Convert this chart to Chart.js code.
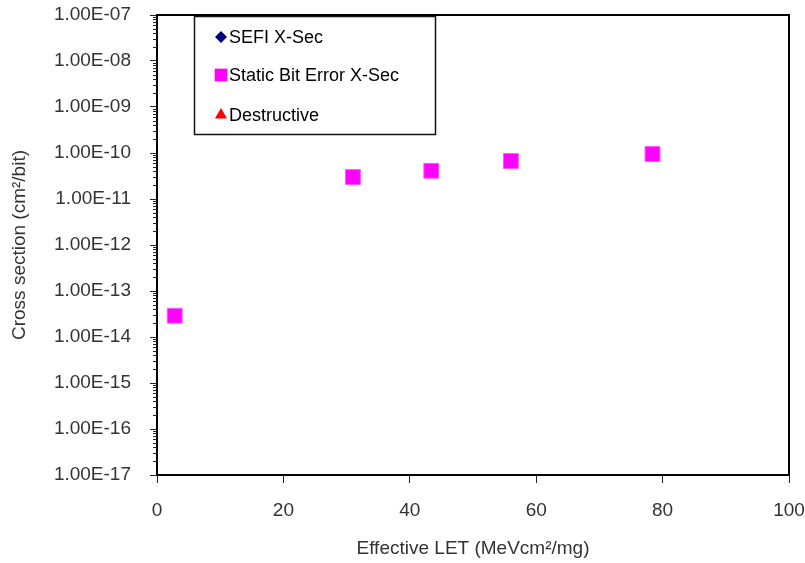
<html lang="en">
<head>
<meta charset="UTF-8">
<title>Cross section vs Effective LET</title>
<script src="https://cdn.jsdelivr.net/npm/chart.js"></script>
<style>
  body, html {
    margin: 0;
    background: #fff;
    font-family: "Liberation Sans", Arial, sans-serif;
  }
  #wrap {
    width: 805px;
    height: 563px;
  }
</style>
</head>
<body>
<div id="wrap">
  <canvas id="xsecChart" width="805" height="563"></canvas>
</div>
<script>
  // data
  const seriesNames = ['SEFI X-Sec', 'Static Bit Error X-Sec', 'Destructive'];
  const sefiLET = [];
  const sefiXsec = [];
  const bitErrLET = [2.8, 31, 43.4, 56, 78.4];
  const bitErrXsec = [2.9e-14, 3.0e-11, 4.1e-11, 6.7e-11, 9.5e-11];
  const destrLET = [];
  const destrXsec = [];

  // axis ticks
  const xTicks = [0, 20, 40, 60, 80, 100];
  const yDecades = [-17, -16, -15, -14, -13, -12, -11, -10, -9, -8, -7];

  function toPoints(xs, ys) {
    return xs.map((x, i) => ({ x: x, y: ys[i] }));
  }

  function sciLabel(v) {
    const e = Math.round(Math.log10(v));
    return '1.00E' + (e < 0 ? '-' : '+') + String(Math.abs(e)).padStart(2, '0');
  }

  // top + right border of the plot box, minor log ticks on y
  const frameAndMinor = {
    id: 'frameAndMinor',
    afterDraw(chart) {
      const ctx = chart.ctx;
      const a = chart.chartArea;
      const y = chart.scales.y;
      ctx.save();
      ctx.strokeStyle = '#000';
      ctx.lineWidth = 2;
      ctx.beginPath();
      ctx.moveTo(a.left, a.top);
      ctx.lineTo(a.right, a.top);
      ctx.lineTo(a.right, a.bottom);
      ctx.stroke();

      ctx.lineWidth = 1;
      ctx.strokeStyle = '#222';
      ctx.beginPath();
      for (let i = 0; i < yDecades.length - 1; i++) {
        for (let k = 2; k <= 9; k++) {
          const py = Math.round(y.getPixelForValue(k * Math.pow(10, yDecades[i]))) + 0.5;
          ctx.moveTo(a.left - 4, py);
          ctx.lineTo(a.left, py);
        }
      }
      ctx.stroke();
      ctx.restore();
    }
  };

  // boxed legend sitting inside the plot
  const boxLegend = {
    id: 'boxLegend',
    afterDraw(chart) {
      const ctx = chart.ctx;
      const bx = 194.5, by = 16.5, bw = 241, bh = 118;
      const rows = [37, 75, 115];
      const radii = [6, 9, 7];
      ctx.save();
      ctx.fillStyle = '#fff';
      ctx.fillRect(bx, by, bw, bh);
      ctx.strokeStyle = '#111';
      ctx.lineWidth = 1.5;
      ctx.strokeRect(bx, by, bw, bh);
      chart.data.datasets.forEach((ds, i) => {
        ctx.fillStyle = ds.backgroundColor;
        ctx.strokeStyle = ds.backgroundColor;
        Chart.helpers.drawPoint(ctx, {
          pointStyle: ds.pointStyle,
          radius: radii[i],
          rotation: 0,
          borderWidth: 0
        }, 221, rows[i]);
        ctx.fillStyle = '#000';
        ctx.font = '18px "Liberation Sans", Arial, sans-serif';
        ctx.textBaseline = 'middle';
        ctx.textAlign = 'left';
        ctx.fillText(ds.label, 229, rows[i] + 1);
      });
      ctx.restore();
    }
  };

  const ctxXsec = document.getElementById('xsecChart').getContext('2d');
  const xsecChart = new Chart(ctxXsec, {
    type: 'scatter',
    data: {
      datasets: [
        {
          label: seriesNames[0],
          data: toPoints(sefiLET, sefiXsec),
          pointStyle: 'rectRot',
          pointRadius: 6,
          backgroundColor: '#000080',
          borderColor: '#000080'
        },
        {
          label: seriesNames[1],
          data: toPoints(bitErrLET, bitErrXsec),
          pointStyle: 'rect',
          pointRadius: 10.5,
          pointHoverRadius: 10.5,
          borderWidth: 1,
          backgroundColor: '#ff00ff',
          borderColor: '#ff55ff'
        },
        {
          label: seriesNames[2],
          data: toPoints(destrLET, destrXsec),
          pointStyle: 'triangle',
          pointRadius: 7,
          backgroundColor: '#ff0000',
          borderColor: '#ff0000'
        }
      ]
    },
    options: {
      responsive: false,
      animation: false,
      events: [],
      layout: { padding: { top: 15, right: 16, left: 0, bottom: 0 } },
      plugins: {
        legend: { display: false },
        tooltip: { enabled: false }
      },
      scales: {
        x: {
          type: 'linear',
          min: 0,
          max: 100,
          afterFit(scale) {
            scale.height = 88;
            scale.paddingLeft = 0;
            scale.paddingRight = 0;
          },
          afterBuildTicks(scale) { scale.ticks = xTicks.map(v => ({ value: v })); },
          grid: { drawOnChartArea: false, drawTicks: true, tickLength: 8, tickColor: '#222', tickWidth: 1 },
          border: { display: true, color: '#000', width: 2 },
          ticks: {
            color: '#333',
            padding: 16,
            maxRotation: 0,
            font: { family: '"Liberation Sans", Arial, sans-serif', size: 19 }
          },
          title: {
            display: true,
            text: 'Effective LET (MeVcm²/mg)',
            color: '#333',
            padding: { top: 0, bottom: 3 },
            font: { family: '"Liberation Sans", Arial, sans-serif', size: 19 }
          }
        },
        y: {
          type: 'logarithmic',
          min: 1e-17,
          max: 1e-7,
          afterFit(scale) {
            scale.width = 157;
            scale.paddingTop = 0;
            scale.paddingBottom = 0;
          },
          afterBuildTicks(scale) { scale.ticks = yDecades.map(e => ({ value: Math.pow(10, e) })); },
          grid: { drawOnChartArea: false, drawTicks: true, tickLength: 7, tickColor: '#222', tickWidth: 1 },
          border: { display: true, color: '#000', width: 2 },
          ticks: {
            color: '#333',
            padding: 19,
            callback: v => sciLabel(v),
            font: { family: '"Liberation Sans", Arial, sans-serif', size: 19 }
          },
          title: {
            display: true,
            text: 'Cross section (cm²/bit)',
            color: '#333',
            padding: { top: 8, bottom: 0 },
            font: { family: '"Liberation Sans", Arial, sans-serif', size: 19 }
          }
        }
      }
    },
    plugins: [frameAndMinor, boxLegend]
  });
</script>
</body>
</html>
